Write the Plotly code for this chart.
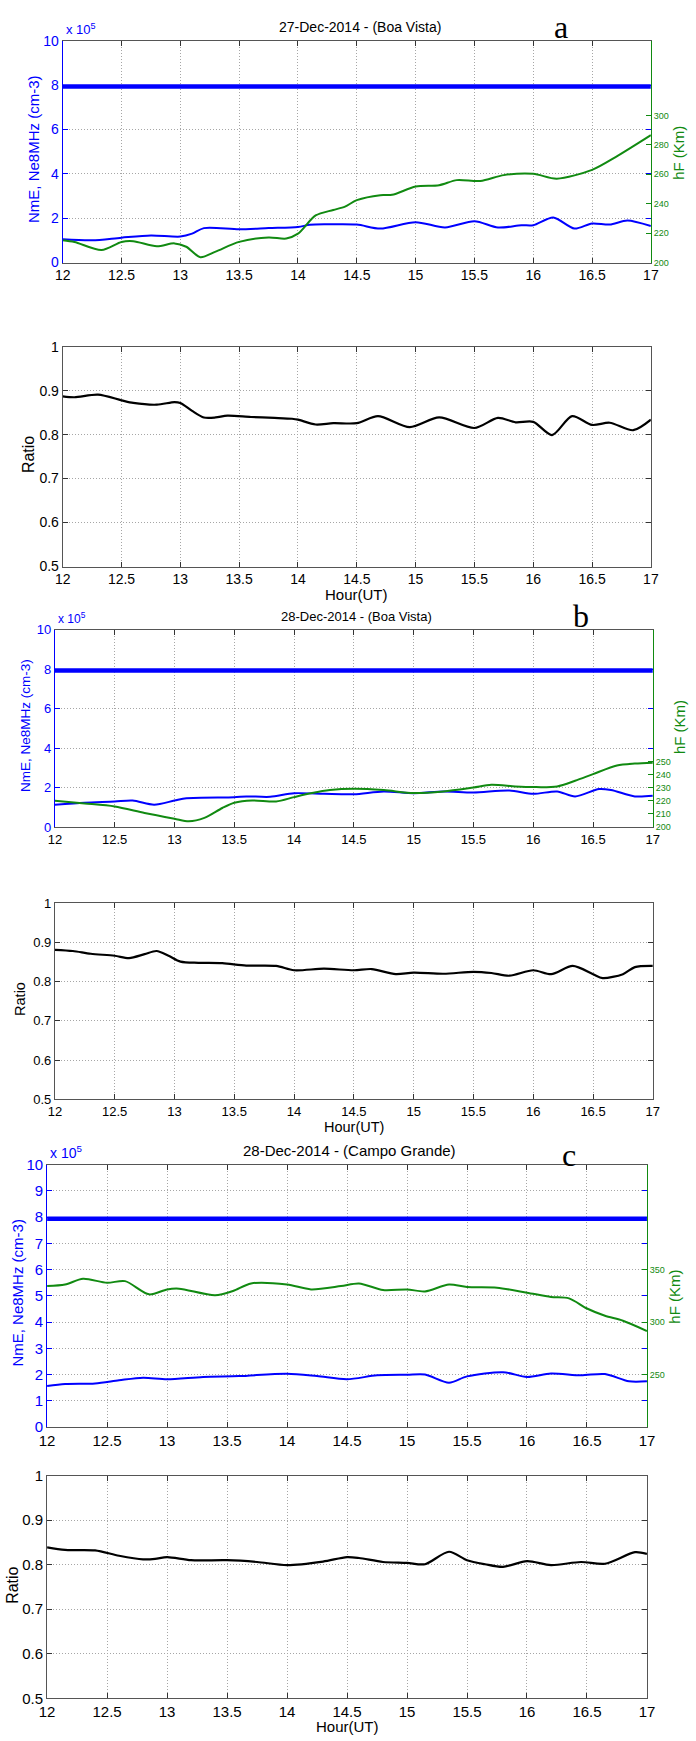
import plotly.graph_objects as go

# ---------------- data ----------------
HOUR_TICKS = [12, 12.5, 13, 13.5, 14, 14.5, 15, 15.5, 16, 16.5, 17]
HOUR_TICK_TEXT = ["12", "12.5", "13", "13.5", "14", "14.5", "15", "15.5", "16", "16.5", "17"]
NE8_LEVEL = 7.94  # x 10^5 cm-3

TITLES = ["27-Dec-2014 - (Boa Vista)", "28-Dec-2014 - (Boa Vista)", "28-Dec-2014 - (Campo Grande)"]
PANEL_LETTERS = ["a", "b", "c"]

# Panel a (27-Dec-2014, Boa Vista)
A_NME_X = [12.0, 12.25, 12.5, 12.75, 13.0, 13.1, 13.2, 13.5, 13.75, 14.0, 14.1, 14.25, 14.5, 14.7, 15.0,
           15.25, 15.5, 15.7, 15.9, 16.0, 16.17, 16.35, 16.5, 16.65, 16.8, 17.0]
A_NME_Y = [1.05, 1.00, 1.12, 1.22, 1.17, 1.30, 1.55, 1.50, 1.55, 1.60, 1.70, 1.72, 1.71, 1.53, 1.82,
           1.58, 1.86, 1.58, 1.68, 1.68, 2.03, 1.53, 1.76, 1.71, 1.89, 1.64]
A_HF_X = [12.0, 12.1, 12.33, 12.5, 12.6, 12.8, 12.95, 13.05, 13.17, 13.3, 13.5, 13.75, 13.9, 14.0, 14.15,
          14.3, 14.4, 14.5, 14.7, 14.8, 15.0, 15.2, 15.35, 15.55, 15.75, 16.0, 16.2, 16.5, 16.7, 17.0]
A_HF_Y = [215.2, 214.0, 208.5, 214.0, 214.5, 211.0, 213.0, 210.7, 203.6, 207.4, 214.0, 217.0, 216.3, 219.6, 232.0,
          235.7, 238.0, 242.4, 245.8, 246.0, 251.6, 252.5, 256.0, 255.4, 259.4, 260.3, 257.0, 263.0, 271.7, 286.6]
A_RATIO_X = [12.0, 12.1, 12.3, 12.5, 12.6, 12.8, 12.95, 13.0, 13.1, 13.2, 13.3, 13.4, 13.6, 13.8, 13.95, 14.0,
             14.15, 14.3, 14.5, 14.68, 14.95, 15.2, 15.5, 15.7, 15.85, 16.0, 16.16, 16.33, 16.5, 16.65, 16.85, 17.0]
A_RATIO_Y = [0.887, 0.885, 0.891, 0.878, 0.872, 0.868, 0.874, 0.872, 0.854, 0.839, 0.839, 0.843, 0.840, 0.838, 0.836, 0.834,
             0.823, 0.826, 0.826, 0.842, 0.817, 0.839, 0.815, 0.838, 0.828, 0.829, 0.799, 0.842, 0.822, 0.827, 0.810, 0.834]

# Panel b (28-Dec-2014, Boa Vista)
B_NME_X = [12.0, 12.25, 12.5, 12.65, 12.83, 13.0, 13.1, 13.5, 13.6, 13.8, 14.0, 14.25, 14.5, 14.75, 15.0,
           15.25, 15.5, 15.8, 16.0, 16.2, 16.35, 16.55, 16.65, 16.85, 17.0]
B_NME_Y = [1.13, 1.23, 1.29, 1.34, 1.13, 1.34, 1.46, 1.51, 1.55, 1.53, 1.71, 1.68, 1.66, 1.80, 1.71,
           1.80, 1.75, 1.85, 1.68, 1.80, 1.55, 1.92, 1.87, 1.55, 1.58]
B_HF_X = [12.0, 12.25, 12.5, 12.75, 13.0, 13.12, 13.25, 13.4, 13.5, 13.65, 13.85, 14.0, 14.15, 14.3, 14.5,
          14.75, 15.0, 15.25, 15.5, 15.65, 15.85, 16.0, 16.2, 16.35, 16.5, 16.7, 16.85, 17.0]
B_HF_Y = [220.0, 218.0, 215.7, 210.7, 206.3, 204.3, 206.9, 214.5, 218.5, 220.3, 219.5, 222.8, 225.9, 228.2, 229.2,
          228.2, 225.9, 227.2, 230.2, 232.2, 231.0, 230.5, 231.0, 235.3, 240.4, 247.0, 248.5, 249.2]
B_RATIO_X = [12.0, 12.15, 12.3, 12.5, 12.62, 12.75, 12.85, 12.95, 13.05, 13.2, 13.4, 13.6, 13.85, 14.0, 14.25,
             14.5, 14.65, 14.85, 15.0, 15.25, 15.5, 15.65, 15.8, 16.0, 16.15, 16.33, 16.5, 16.58, 16.75, 16.85, 17.0]
B_RATIO_Y = [0.881, 0.878, 0.871, 0.866, 0.860, 0.870, 0.878, 0.866, 0.851, 0.848, 0.847, 0.841, 0.840, 0.829, 0.833,
             0.829, 0.832, 0.819, 0.823, 0.820, 0.825, 0.822, 0.815, 0.829, 0.819, 0.840, 0.819, 0.809, 0.819, 0.837, 0.840]

# Panel c (28-Dec-2014, Campo Grande)
C_NME_X = [12.0, 12.15, 12.4, 12.6, 12.8, 13.0, 13.3, 13.6, 14.0, 14.25, 14.5, 14.75, 15.0, 15.15, 15.35,
           15.5, 15.8, 16.0, 16.2, 16.45, 16.65, 16.85, 17.0]
C_NME_Y = [1.56, 1.64, 1.66, 1.78, 1.88, 1.82, 1.91, 1.94, 2.03, 1.94, 1.82, 1.97, 1.99, 2.00, 1.69,
           1.93, 2.09, 1.91, 2.04, 1.97, 2.02, 1.74, 1.74]
C_HF_X = [12.0, 12.15, 12.3, 12.5, 12.65, 12.85, 13.0, 13.1, 13.4, 13.55, 13.7, 14.0, 14.2, 14.45, 14.6,
          14.8, 15.0, 15.15, 15.35, 15.5, 15.75, 16.0, 16.2, 16.35, 16.5, 16.65, 16.8, 17.0]
C_HF_Y = [334.3, 335.8, 341.2, 337.4, 339.0, 326.4, 331.1, 331.8, 325.5, 329.6, 336.8, 335.8, 331.1, 334.3, 336.8,
          330.5, 331.1, 329.2, 335.8, 333.3, 332.7, 328.0, 323.9, 322.6, 312.9, 306.0, 301.3, 291.5]
C_RATIO_X = [12.0, 12.15, 12.4, 12.6, 12.8, 12.9, 13.0, 13.2, 13.5, 13.75, 14.0, 14.3, 14.5, 14.6, 14.8,
             15.0, 15.15, 15.35, 15.5, 15.65, 15.8, 16.0, 16.2, 16.45, 16.65, 16.9, 17.0]
C_RATIO_Y = [0.839, 0.833, 0.832, 0.820, 0.812, 0.813, 0.817, 0.810, 0.810, 0.806, 0.799, 0.807, 0.817, 0.815, 0.806,
             0.804, 0.801, 0.829, 0.810, 0.801, 0.795, 0.808, 0.799, 0.806, 0.802, 0.828, 0.824]

NME_TICKS_AB = [0, 2, 4, 6, 8, 10]
NME_TICKS_C = [0, 1, 2, 3, 4, 5, 6, 7, 8, 9, 10]
HF_TICKS = [[200, 220, 240, 260, 280, 300], [200, 210, 220, 230, 240, 250], [250, 300, 350]]
HF_RANGES = [[200, 350.8], [200, 350.8], [200, 450]]
RATIO_TICKS = [0.5, 0.6, 0.7, 0.8, 0.9, 1.0]
RATIO_TICK_TEXT = ["0.5", "0.6", "0.7", "0.8", "0.9", "1"]

# ---------------- layout geometry (pixels) ----------------
W, H = 696, 1741
FONT = "Liberation Sans, Arial, Helvetica, sans-serif"
BLUE = "#0000ff"
GREEN = "#118a11"
GRID = "#a6a6a6"
GRIDDASH = "1px,2px"
AXLINE = "#555555"

# (x0, x1, top_y0, top_y1, ratio_y0, ratio_y1, tickfont size)
PANELS = [
    (56, 658, 32, 256, 341, 563, 14),
    (48, 660, 627, 826, 903, 1101, 13),
    (40, 654, 1167, 1432, 1481, 1706, 15),
]


def fx(p):
    return p / W


def fy(p):
    return 1 - p / H


fig = go.Figure()
nme_x = [A_NME_X, B_NME_X, C_NME_X]
nme_y = [A_NME_Y, B_NME_Y, C_NME_Y]
hf_x = [A_HF_X, B_HF_X, C_HF_X]
hf_y = [A_HF_Y, B_HF_Y, C_HF_Y]
ra_x = [A_RATIO_X, B_RATIO_X, C_RATIO_X]
ra_y = [A_RATIO_Y, B_RATIO_Y, C_RATIO_Y]

layout = dict(
    width=W, height=H,
    margin=dict(l=0, r=0, t=0, b=0),
    paper_bgcolor="white", plot_bgcolor="white",
    showlegend=False,
    font=dict(family=FONT, color="black", size=13),
)
annotations = []

for i, (x0, x1, t0, t1, r0, r1, fs) in enumerate(PANELS):
    xt = 2 * i + 1      # top x axis index
    xr = 2 * i + 2      # ratio x axis index
    yt = 2 * i + 1
    yr = 2 * i + 2
    yh = 7 + i          # hF axis index
    xtn = "x" if xt == 1 else f"x{xt}"
    ytn = "y" if yt == 1 else f"y{yt}"

    # traces
    fig.add_trace(go.Scatter(x=[HOUR_TICKS[0], HOUR_TICKS[-1]], y=[NE8_LEVEL, NE8_LEVEL], mode="lines",
                             line=dict(color=BLUE, width=4.5), xaxis=xtn, yaxis=ytn, name="Ne8MHz"))
    fig.add_trace(go.Scatter(x=hf_x[i], y=hf_y[i], mode="lines",
                             line=dict(color=GREEN, width=2, shape="spline", smoothing=0.8),
                             xaxis=xtn, yaxis=f"y{yh}", name="hF"))
    fig.add_trace(go.Scatter(x=nme_x[i], y=nme_y[i], mode="lines",
                             line=dict(color=BLUE, width=2, shape="spline", smoothing=0.8),
                             xaxis=xtn, yaxis=ytn, name="NmE"))
    fig.add_trace(go.Scatter(x=ra_x[i], y=ra_y[i], mode="lines",
                             line=dict(color="black", width=2.2, shape="spline", smoothing=0.8),
                             xaxis=f"x{xr}", yaxis=f"y{yr}", name="Ratio"))

    xdom = [fx(x0), fx(x1)]
    common_x = dict(domain=xdom, range=[12, 17], tickmode="array", tickvals=HOUR_TICKS,
                    ticktext=HOUR_TICK_TEXT, showline=True, linecolor=AXLINE, linewidth=1,
                    mirror="ticks", ticks="inside", ticklen=5, tickcolor="#333333",
                    showgrid=True, gridcolor=GRID, griddash=GRIDDASH, gridwidth=1,
                    zeroline=False, tickfont=dict(size=fs, color="black", family=FONT))
    layout[f"xaxis{'' if xt == 1 else xt}"] = dict(common_x, anchor=ytn)
    layout[f"xaxis{xr}"] = dict(common_x, anchor=f"y{yr}")

    nt = NME_TICKS_C if i == 2 else NME_TICKS_AB
    layout[f"yaxis{'' if yt == 1 else yt}"] = dict(
        domain=[fy(t1), fy(t0)], anchor=xtn, range=[0, 10], tickmode="array", tickvals=nt,
        ticktext=[str(v) for v in nt], showline=True, linecolor=BLUE, linewidth=1, mirror="ticks",
        ticks="inside", ticklen=5, tickcolor=BLUE, showgrid=True, gridcolor=GRID, griddash=GRIDDASH,
        zeroline=False, tickfont=dict(size=fs, color=BLUE, family=FONT))
    layout[f"yaxis{yh}"] = dict(
        overlaying=ytn, anchor=xtn, side="right", range=HF_RANGES[i], tickmode="array",
        tickvals=HF_TICKS[i], ticktext=[str(v) for v in HF_TICKS[i]], showline=True, linecolor=GREEN,
        linewidth=1, ticks="inside", ticklen=5, tickcolor=GREEN, showgrid=False, zeroline=False,
        tickfont=dict(size=9, color=GREEN, family=FONT))
    layout[f"yaxis{yr}"] = dict(
        domain=[fy(r1), fy(r0)], anchor=f"x{xr}", range=[0.5, 1.0], tickmode="array",
        tickvals=RATIO_TICKS, ticktext=RATIO_TICK_TEXT, showline=True, linecolor=AXLINE, linewidth=1,
        mirror="ticks", ticks="inside", ticklen=5, tickcolor="#333333", showgrid=True, gridcolor=GRID,
        griddash=GRIDDASH, zeroline=False, tickfont=dict(size=fs, color="black", family=FONT))

    cx = (x0 + x1) / 2
    # title
    annotations.append(dict(text=TITLES[i], x=fx(cx + 3), y=fy(t0 - 14), xref="paper", yref="paper",
                            showarrow=False, xanchor="center", yanchor="middle",
                            font=dict(size=fs, color="black", family=FONT)))
    # x10^5 multiplier
    annotations.append(dict(text="x 10<sup>5</sup>", x=fx(x0 + 1), y=fy(t0 - 2), xref="paper", yref="paper",
                            showarrow=False, xanchor="left", yanchor="bottom",
                            font=dict(size=fs - 1, color=BLUE, family=FONT)))
    # panel letter
    annotations.append(dict(text=PANEL_LETTERS[i], x=fx(x1 - 92 + (18 if i == 1 else 0) + (12 if i == 2 else 0)),
                            y=fy(t0 - 14 + (0 if i != 2 else 4)), xref="paper", yref="paper",
                            showarrow=False, xanchor="center", yanchor="middle",
                            font=dict(size=32, color="black", family="Liberation Serif, Times New Roman, serif")))
    # left y label
    annotations.append(dict(text="NmE, Ne8MHz (cm-3)", x=fx(x0 - 30), y=fy((t0 + t1) / 2 - 3), xref="paper",
                            yref="paper", showarrow=False, textangle=-90, xanchor="center", yanchor="middle",
                            font=dict(size=15 if i != 1 else 13.5, color=BLUE, family=FONT)))
    # right hF label
    hf_label_y = [145, 725, 1300][i]
    annotations.append(dict(text="hF (Km)", x=fx(x1 + 28), y=fy(hf_label_y), xref="paper", yref="paper",
                            showarrow=False, textangle=-90, xanchor="center", yanchor="middle",
                            font=dict(size=15, color=GREEN, family=FONT)))
    # ratio y label
    annotations.append(dict(text="Ratio", x=fx(x0 - 35), y=fy((r0 + r1) / 2 - 2), xref="paper", yref="paper",
                            showarrow=False, textangle=-90, xanchor="center", yanchor="middle",
                            font=dict(size=16 if i != 1 else 14.5, color="black", family=FONT)))
    # x label
    annotations.append(dict(text="Hour(UT)", x=fx(cx), y=fy(r1 + 28), xref="paper", yref="paper",
                            showarrow=False, xanchor="center", yanchor="middle",
                            font=dict(size=15 if i != 1 else 14.5, color="black", family=FONT)))

layout["annotations"] = annotations
fig.update_layout(**layout)
fig.write_html("out.html")
